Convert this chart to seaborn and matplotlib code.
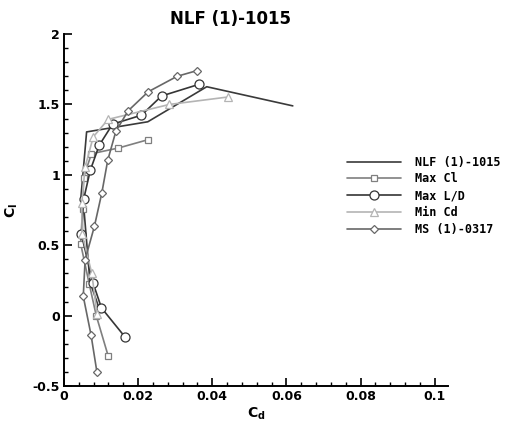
import matplotlib
matplotlib.use("Agg")
import matplotlib.pyplot as plt
import seaborn as sns
import pandas as pd
from matplotlib.ticker import MultipleLocator

sns.set_style("ticks")
plt.rcParams["font.family"] = ["DejaVu Sans"]
plt.rcParams["text.color"] = "black"
plt.rcParams["axes.labelcolor"] = "black"
plt.rcParams["xtick.color"] = "black"
plt.rcParams["ytick.color"] = "black"

# Drag polars: Cd (x) and Cl (y) for each series
nlf_cd = [0.0095, 0.0070, 0.0052, 0.0046, 0.0052, 0.0061, 0.0226, 0.0385, 0.0617]
nlf_cl = [0.05, 0.24, 0.58, 0.85, 1.05, 1.305, 1.377, 1.626, 1.49]

maxcl_cd = [0.0119, 0.0087, 0.0068, 0.0045, 0.0050, 0.0053, 0.0074, 0.0146, 0.0227]
maxcl_cl = [-0.285, 0.0, 0.226, 0.51, 0.755, 0.98, 1.15, 1.19, 1.25]

maxld_cd = [0.0164, 0.0101, 0.0078, 0.0047, 0.0053, 0.0071, 0.0095, 0.0131, 0.0209, 0.0263, 0.0364]
maxld_cl = [-0.15, 0.055, 0.235, 0.577, 0.826, 1.033, 1.21, 1.36, 1.424, 1.56, 1.643]

mincd_cd = [0.0089, 0.0075, 0.0049, 0.0048, 0.0057, 0.0079, 0.0119, 0.0284, 0.0442]
mincd_cl = [0.014, 0.30, 0.577, 0.80, 1.056, 1.27, 1.394, 1.50, 1.553]

ms_cd = [0.0089, 0.0073, 0.0052, 0.0057, 0.0082, 0.0102, 0.0118, 0.0140, 0.0173, 0.0227, 0.0305, 0.0358]
ms_cl = [-0.404, -0.138, 0.137, 0.397, 0.634, 0.871, 1.104, 1.31, 1.455, 1.59, 1.70, 1.74]

series = [
    ("NLF (1)-1015", nlf_cd, nlf_cl, "#3a3a3a", None, 0),
    ("Max Cl", maxcl_cd, maxcl_cl, "#7f7f7f", "s", 4.5),
    ("Max L/D", maxld_cd, maxld_cl, "#353535", "o", 6.5),
    ("Min Cd", mincd_cd, mincd_cl, "#b4b4b4", "^", 5.5),
    ("MS (1)-0317", ms_cd, ms_cl, "#676767", "D", 4.5),
]

fig = plt.figure(figsize=(5.07, 4.25), dpi=100)
ax = fig.add_axes([0.1262, 0.0918, 0.757, 0.828])

for name, cd, cl, color, marker, ms in series:
    df = pd.DataFrame({"Cd": cd, "Cl": cl})
    sns.lineplot(data=df, x="Cd", y="Cl", sort=False, ax=ax, color=color,
                 linewidth=1.2, marker=marker if marker else None,
                 markersize=ms, markerfacecolor="white",
                 markeredgecolor=color, markeredgewidth=0.9, label=name,
                 legend=False)

ax.set_xlim(0, 0.1035)
ax.set_ylim(-0.5, 2.0)
ax.xaxis.set_minor_locator(MultipleLocator(0.004))
ax.yaxis.set_minor_locator(MultipleLocator(0.1))
ax.set_xticks([0, 0.02, 0.04, 0.06, 0.08, 0.1])
ax.set_xticklabels(["0", "0.02", "0.04", "0.06", "0.08", "0.1"])
ax.set_yticks([-0.5, 0, 0.5, 1, 1.5, 2])
ax.set_yticklabels(["-0.5", "0", "0.5", "1", "1.5", "2"])

ax.tick_params(which="major", direction="in", length=6, width=1.2,
               labelsize=9, pad=3)
ax.tick_params(which="minor", direction="in", length=3, width=1.0)
for lab in ax.get_xticklabels() + ax.get_yticklabels():
    lab.set_fontweight("bold")

for side in ("top", "right"):
    ax.spines[side].set_visible(False)
for side in ("left", "bottom"):
    ax.spines[side].set_linewidth(1.4)
    ax.spines[side].set_color("black")

ax.set_xlabel(r"C$_\mathregular{d}$", fontsize=10, fontweight="bold", labelpad=2)
ax.set_ylabel(r"C$_\mathregular{l}$", fontsize=10, fontweight="bold")
ax.yaxis.set_label_coords(-0.115, 0.5)

fig.text(0.455, 0.955, "NLF (1)-1015", ha="center", va="center",
         fontsize=12, fontweight="heavy", family="DejaVu Sans", color="black")

leg = ax.legend(loc="upper left", bbox_to_anchor=(0.725, 0.668),
                frameon=False, fontsize=8.5, handlelength=4.6,
                handletextpad=1.2, labelspacing=0.32, borderaxespad=0)
for txt in leg.get_texts():
    txt.set_fontweight("bold")
    txt.set_family("DejaVu Sans Mono")
    txt.set_color("black")

fig.savefig("out.png", dpi=100, facecolor="white")
